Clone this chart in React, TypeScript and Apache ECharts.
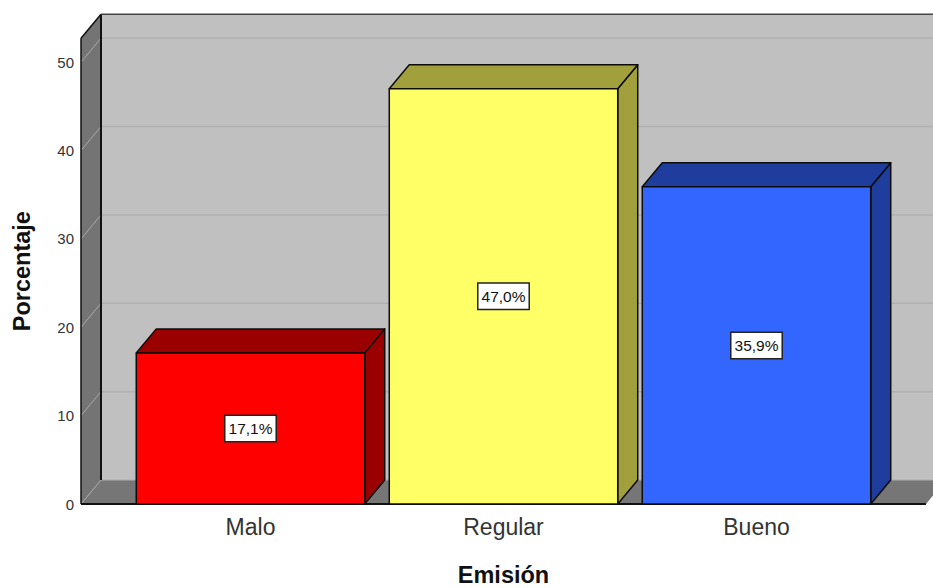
import React, { useEffect, useRef } from "react";
import * as echarts from "echarts";

const categories = ["Malo", "Regular", "Bueno"];
const percentages = [17.1, 47.0, 35.9];
const frontColors = ["#ff0000", "#ffff66", "#3366ff"];
const sideColors = ["#9b0000", "#a1a03d", "#1f3d9c"];
const yTicks = [0, 10, 20, 30, 40, 50];
const yMax = 52.7;

const DEPTH_X = 20;
const DEPTH_Y = 24;
const AXIS_PAD = 43;
const BAR_RATIO = 0.903;
const FONT = "'Liberation Sans', Arial, sans-serif";

// Back wall, side wall, floor and gridlines of the 3D box.
function renderWalls(_params: any, api: any) {
  const cs = _params.coordSys;
  const left = cs.x - AXIS_PAD;
  const right = cs.x + cs.width + AXIS_PAD;
  const top = api.coord([0, yMax])[1];
  const bottom = api.coord([0, 0])[1];
  const wallRight = right + DEPTH_X;
  const children: any[] = [
    {
      type: "rect",
      shape: { x: left + DEPTH_X, y: top - DEPTH_Y, width: wallRight - left - DEPTH_X, height: bottom - top },
      style: { fill: "#c0c0c0", stroke: "none" },
    },
    {
      type: "polygon",
      shape: {
        points: [
          [left, top],
          [left + DEPTH_X, top - DEPTH_Y],
          [left + DEPTH_X, bottom - DEPTH_Y],
          [left, bottom],
        ],
      },
      style: { fill: "#747474", stroke: "none" },
    },
    {
      type: "polygon",
      shape: {
        points: [
          [left, bottom],
          [left + DEPTH_X, bottom - DEPTH_Y],
          [wallRight, bottom - DEPTH_Y],
          [right, bottom],
        ],
      },
      style: { fill: "#767676", stroke: "none" },
    },
  ];
  yTicks.forEach((t) => {
    const y = api.coord([0, t])[1];
    children.push({
      type: "line",
      shape: { x1: left, y1: y, x2: left + DEPTH_X, y2: y - DEPTH_Y },
      style: { stroke: "#a9a9a9", lineWidth: 1 },
    });
    children.push({
      type: "line",
      shape: { x1: left + DEPTH_X, y1: y - DEPTH_Y, x2: wallRight, y2: y - DEPTH_Y },
      style: { stroke: "#b0b0b0", lineWidth: t === 0 ? 1 : 1.5 },
    });
  });
  const edge = (x1: number, y1: number, x2: number, y2: number, width: number, color = "#111") => ({
    type: "line",
    shape: { x1, y1, x2, y2 },
    style: { stroke: color, lineWidth: width },
  });
  children.push(edge(left, top, left, bottom, 1.5));
  children.push(edge(left, top, left + DEPTH_X, top - DEPTH_Y, 1.5));
  children.push(edge(left + DEPTH_X, top - DEPTH_Y, left + DEPTH_X, bottom - DEPTH_Y, 2));
  children.push(edge(left + DEPTH_X, top - DEPTH_Y, wallRight, top - DEPTH_Y, 1.5, "#444"));
  children.push(edge(left, bottom, right, bottom, 2));
  return { type: "group", children };
}

// One extruded bar: front face, top and side faces, and its value tag.
function renderBar(_params: any, api: any) {
  const idx = api.value(0);
  const value = api.value(1);
  const [cx, yTop] = api.coord([idx, value]);
  const yBase = api.coord([idx, 0])[1];
  const width = api.size([1, 0])[0] * BAR_RATIO;
  const x0 = cx - width / 2;
  const x1 = cx + width / 2;
  const stroke = { stroke: "#0c0c0c", lineWidth: 1.5, lineJoin: "round" };
  return {
    type: "group",
    children: [
      {
        type: "polygon",
        shape: {
          points: [
            [x1, yTop],
            [x1 + DEPTH_X, yTop - DEPTH_Y],
            [x1 + DEPTH_X, yBase - DEPTH_Y],
            [x1, yBase],
          ],
        },
        style: { fill: sideColors[idx], ...stroke },
      },
      {
        type: "polygon",
        shape: {
          points: [
            [x0, yTop],
            [x0 + DEPTH_X, yTop - DEPTH_Y],
            [x1 + DEPTH_X, yTop - DEPTH_Y],
            [x1, yTop],
          ],
        },
        style: { fill: sideColors[idx], ...stroke },
      },
      {
        type: "rect",
        shape: { x: x0, y: yTop, width, height: yBase - yTop },
        style: { fill: frontColors[idx], ...stroke },
      },
      {
        type: "text",
        style: {
          text: value.toFixed(1).replace(".", ",") + "%",
          x: cx,
          y: (yTop + yBase) / 2,
          align: "center",
          verticalAlign: "middle",
          fill: "#111",
          font: `15.5px ${FONT}`,
          backgroundColor: "#fff",
          borderColor: "#222",
          borderWidth: 1.5,
          padding: [5, 3, 4, 3],
        },
      },
    ],
  };
}

export default function App() {
  const ref = useRef<HTMLDivElement>(null);
  useEffect(() => {
    const chart = echarts.init(ref.current!, undefined, { renderer: "svg" });
    chart.setOption({
      animation: false,
      backgroundColor: "#fff",
      grid: { left: 124, width: 759, top: 38.3, bottom: 84, outerBoundsMode: "none" },
      xAxis: {
        type: "category",
        data: categories,
        axisLine: { show: false },
        axisTick: { show: false },
        axisLabel: { fontFamily: FONT, fontSize: 23, color: "#333", margin: 11 },
        name: "Emisión",
        nameLocation: "middle",
        nameGap: 59,
        nameTextStyle: { fontFamily: FONT, fontSize: 23.5, fontWeight: "bold", color: "#111" },
      },
      yAxis: {
        type: "value",
        min: 0,
        max: yMax,
        interval: 10,
        offset: AXIS_PAD,
        axisLine: { show: false },
        axisTick: { show: false },
        splitLine: { show: false },
        axisLabel: {
          fontFamily: FONT,
          fontSize: 15,
          color: "#333",
          margin: 7,
          padding: [6, 0, 0, 0],
          showMaxLabel: false,
        },
        name: "Porcentaje",
        nameLocation: "middle",
        nameGap: 47,
        nameTextStyle: { fontFamily: FONT, fontSize: 23.5, fontWeight: "bold", color: "#111" },
      },
      series: [
        {
          type: "custom",
          z: 1,
          silent: true,
          clip: false,
          renderItem: renderWalls,
          data: [[0, 0]],
          encode: { x: 0, y: 1 },
        },
        {
          type: "custom",
          z: 2,
          clip: false,
          renderItem: renderBar,
          data: percentages.map((v, i) => [i, v]),
          encode: { x: 0, y: 1 },
        },
      ],
    });
    return () => chart.dispose();
  }, []);
  return (
    <div
      ref={ref}
      style={{ position: "absolute", left: 0, top: 0, width: 933, height: 588, overflow: "hidden" }}
    />
  );
}
